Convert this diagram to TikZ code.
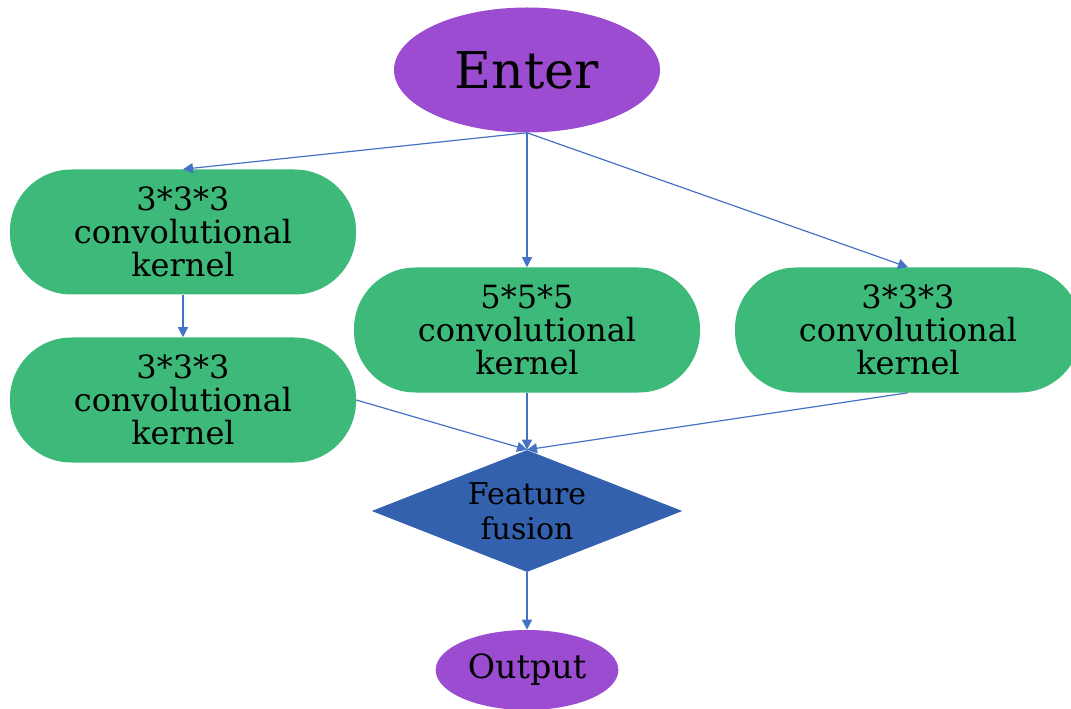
\documentclass[tikz,border=0pt]{standalone}
\usepackage{fontspec}
\setmainfont{DejaVu Serif}
\usetikzlibrary{shapes.geometric,arrows.meta}
\definecolor{purp}{HTML}{9B4CD0}
\definecolor{grn}{HTML}{3DB97A}
\definecolor{dblue}{HTML}{3461AE}
\definecolor{lblue}{HTML}{4472C4}
\tikzset{
  endnode/.style={ellipse, fill=purp, inner sep=0pt, text=black},
  kernel/.style={rectangle, rounded corners=46pt, fill=grn, minimum width=259.5pt, minimum height=93.75pt, align=center, inner sep=0pt, font=\fontsize{24}{25}\selectfont, text=black},
  fusion/.style={diamond, aspect=2.6, fill=dblue, inner sep=0pt, minimum width=233pt, minimum height=91.5pt, align=center, font=\fontsize{22.5}{26}\selectfont, text=black},
  conn/.style={draw=lblue, line width=0.9pt, -{Triangle[length=7.5pt,width=7.5pt]}}
}
\begin{document}
\begin{tikzpicture}[x=0.75pt,y=-0.75pt]
\useasboundingbox (0,0) rectangle (1071,709);
\begin{scope}
\clip (0,0) rectangle (1071,709);
\node[endnode, minimum width=199.5pt, minimum height=93.75pt, font=\fontsize{38}{42}\selectfont] (enter) at (527,70) {Enter};
\node[kernel] (tl) at (183,232) {3*3*3\\convolutional\\kernel};
\node[kernel] (bl) at (183,400) {3*3*3\\convolutional\\kernel};
\node[kernel] (mid) at (527,330) {5*5*5\\convolutional\\kernel};
\node[kernel] (rt) at (908,330) {3*3*3\\convolutional\\kernel};
\node[fusion] (fus) at (527,511) {Feature\\fusion};
\node[endnode, minimum width=137pt, minimum height=60pt, font=\fontsize{25}{28}\selectfont] (out) at (527,670) {Output};
\draw[conn] (enter.south) -- (tl.north);
\draw[conn] (enter.south) -- (mid.north);
\draw[conn] (enter.south) -- (rt.north);
\draw[conn] (tl.south) -- (bl.north);
\draw[conn] (bl.east) -- (fus.north);
\draw[conn] (mid.south) -- (fus.north);
\draw[conn] (rt.south) -- (fus.north);
\draw[conn] (fus.south) -- (out.north);
\end{scope}
\end{tikzpicture}
\end{document}
